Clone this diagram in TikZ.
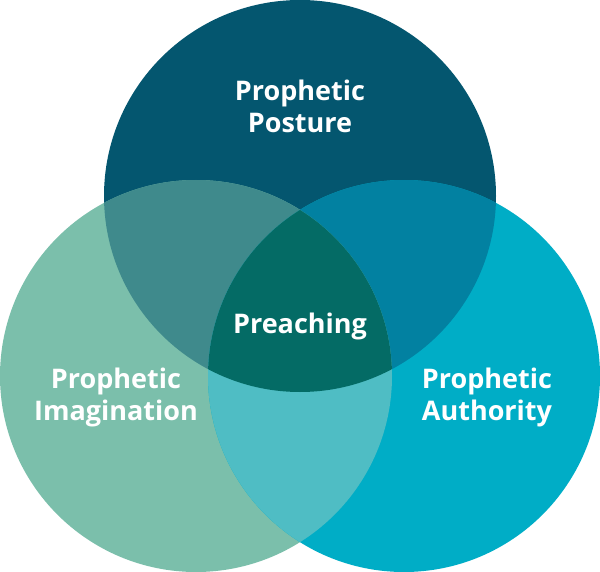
\documentclass[tikz,border=0pt]{standalone}
\usepackage{fontspec}
\setmainfont{Open Sans}
\usepackage{tikz}
\usetikzlibrary{backgrounds,calc}
\definecolor{posture}{HTML}{04566F}
\definecolor{imagination}{HTML}{7BBFAB}
\definecolor{authority}{HTML}{00ADC6}
\definecolor{postimag}{HTML}{3F8A8C}
\definecolor{postauth}{HTML}{0281A1}
\definecolor{imagauth}{HTML}{4FBDC4}
\definecolor{preach}{HTML}{046B65}
\tikzset{label text/.style={text=white,font=\bfseries\fontsize{27}{32}\selectfont,align=center}}

\begin{document}
\begin{tikzpicture}[x=1pt,y=-1pt]
\useasboundingbox (0,0) rectangle (600,572);
\coordinate (P) at (300,196);
\coordinate (I) at (196,376);
\coordinate (A) at (404,376);
\def\r{196pt}
\fill[posture] (P) circle (\r);
\fill[imagination] (I) circle (\r);
\fill[authority] (A) circle (\r);
\begin{scope}
\clip (P) circle (\r);
\fill[postimag] (I) circle (\r);
\fill[postauth] (A) circle (\r);
\end{scope}
\begin{scope}
\clip (I) circle (\r);
\fill[imagauth] (A) circle (\r);
\clip (A) circle (\r);
\fill[preach] (P) circle (\r);
\end{scope}
\node[label text] (posture) at (300,106) {Prophetic\\Posture};
\node[label text] (preaching) at (300,326) {Preaching};
\node[label text] (imagination) at (116,397) {Prophetic\\Imagination};
\node[label text] (authority) at (487,397) {Prophetic\\Authority};
\end{tikzpicture}
\end{document}
